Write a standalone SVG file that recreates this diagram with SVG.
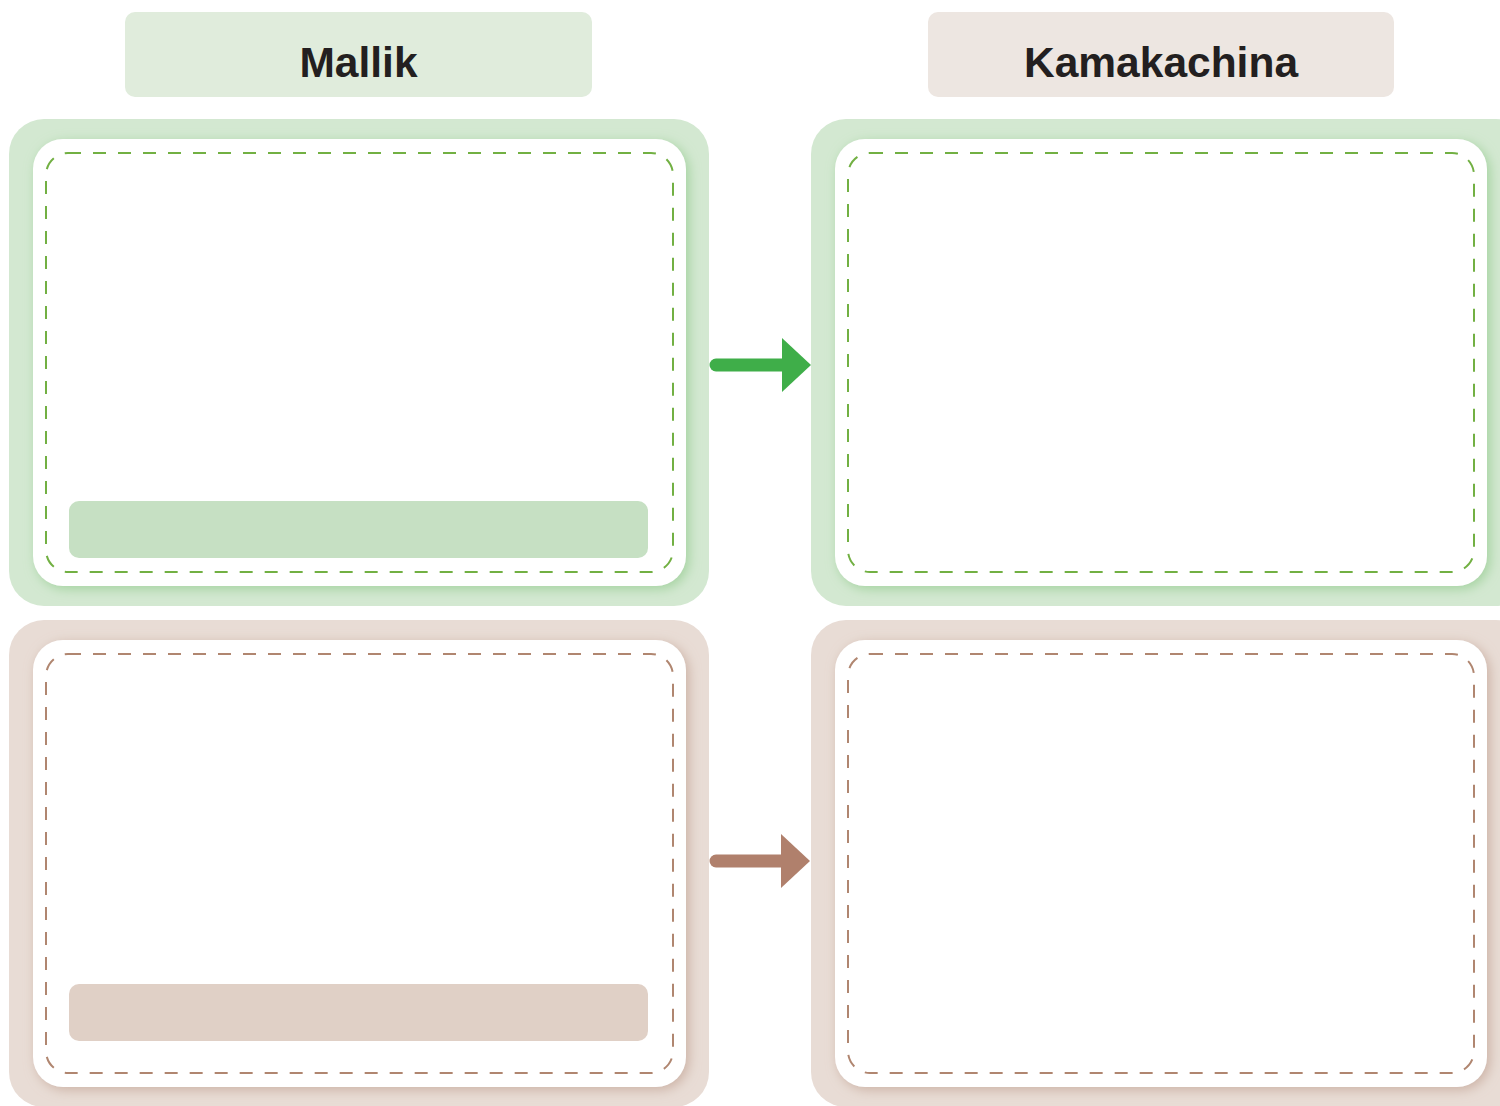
<svg xmlns="http://www.w3.org/2000/svg" width="1500" height="1106" viewBox="0 0 1500 1106">
<defs>
<style>
.hdr{font-family:"Liberation Sans",Arial,sans-serif;font-weight:bold;font-size:42.5px;fill:#231f20;text-anchor:middle}
.outerG{fill:#d3e8d1}
.outerB{fill:#e8dcd5}
.inner{fill:#ffffff}
.dashG{fill:none;stroke:#72b043;stroke-width:2;stroke-dasharray:13 12}
.dashB{fill:none;stroke:#b08670;stroke-width:2;stroke-dasharray:13 12}
.barG{fill:#c6e0c3}
.barB{fill:#e0d0c6}
</style>
<filter id="shG" x="-10%" y="-10%" width="120%" height="120%">
<feDropShadow dx="3" dy="3" stdDeviation="6" flood-color="#9fd09a" flood-opacity="0.9"/>
</filter>
<filter id="shB" x="-10%" y="-10%" width="120%" height="120%">
<feDropShadow dx="3" dy="3" stdDeviation="6" flood-color="#c9ada0" flood-opacity="0.9"/>
</filter>
</defs>
<g id="header-mallik">
<rect x="125" y="12" width="467" height="85" rx="10" fill="#e0ecdc"/>
<text class="hdr" x="358.5" y="77">Mallik</text>
</g>
<g id="header-kamakachina">
<rect x="928" y="12" width="466" height="85" rx="10" fill="#ede6e1"/>
<text class="hdr" x="1161" y="77">Kamakachina</text>
</g>
<g id="panel-top-left">
<rect class="outerG" x="9" y="119" width="700" height="487" rx="35"/>
<rect class="inner" x="33" y="139" width="653" height="447" rx="30" filter="url(#shG)"/>
<rect class="dashG" x="46" y="153" width="627" height="419" rx="22"/>
<rect class="barG" x="69" y="501" width="579" height="57" rx="10"/>
</g>
<g id="panel-top-right">
<rect class="outerG" x="811" y="119" width="720" height="487" rx="35"/>
<rect class="inner" x="835" y="139" width="652" height="447" rx="30" filter="url(#shG)"/>
<rect class="dashG" x="848" y="153" width="626" height="419" rx="22"/>
</g>
<g id="panel-bottom-left">
<rect class="outerB" x="9" y="620" width="700" height="487" rx="35"/>
<rect class="inner" x="33" y="640" width="653" height="447" rx="30" filter="url(#shB)"/>
<rect class="dashB" x="46" y="654" width="627" height="419" rx="22"/>
<rect class="barB" x="69" y="984" width="579" height="57" rx="10"/>
</g>
<g id="panel-bottom-right">
<rect class="outerB" x="811" y="620" width="720" height="487" rx="35"/>
<rect class="inner" x="835" y="640" width="652" height="447" rx="30" filter="url(#shB)"/>
<rect class="dashB" x="848" y="654" width="626" height="419" rx="22"/>
</g>
<g id="connectors">
<line x1="716" y1="365" x2="786" y2="365" stroke="#3fae49" stroke-width="13" stroke-linecap="round"/>
<polygon points="782,338 811,365 782,392" fill="#3fae49"/>
<line x1="716" y1="861" x2="786" y2="861" stroke="#b0806c" stroke-width="13" stroke-linecap="round"/>
<polygon points="781,834 810,861 781,888" fill="#b0806c"/>
</g>
</svg>
